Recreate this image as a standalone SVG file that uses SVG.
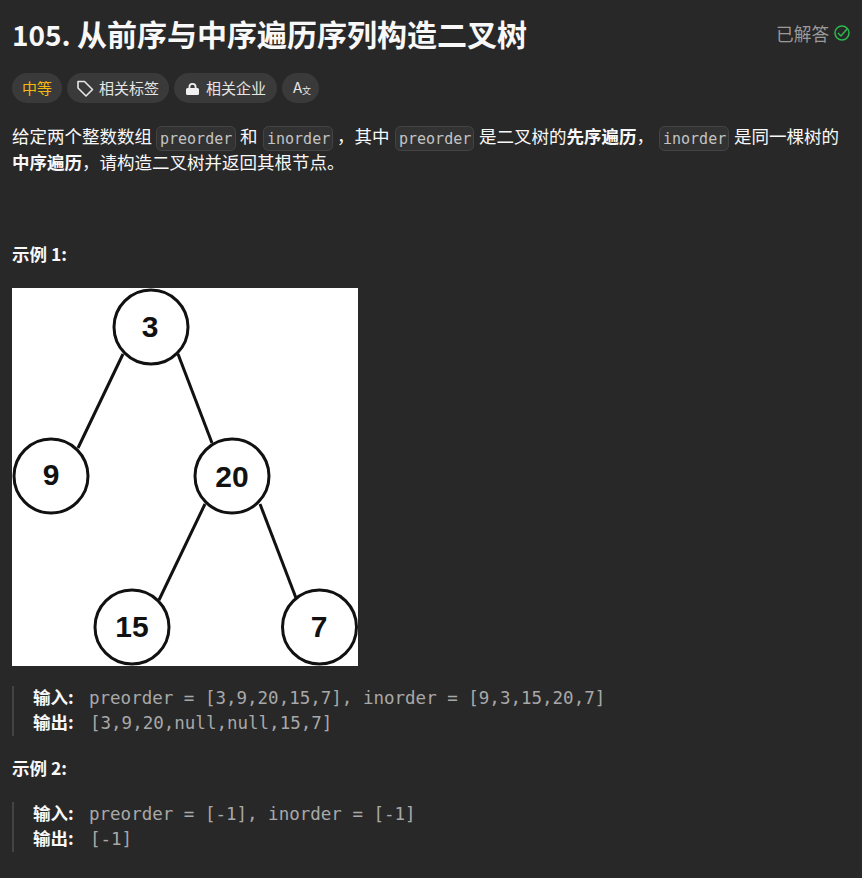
<svg xmlns="http://www.w3.org/2000/svg" width="862" height="878" viewBox="0 0 862 878">
<style>
text{font-family:"Noto Sans CJK SC","Noto Sans",sans-serif;fill:#f8f8f8}
.b{font-weight:700}
.body{font-size:17.5px}
.mono,.code{font-family:"DejaVu Sans Mono","Liberation Mono","Noto Sans CJK SC",monospace}
.mono{font-size:15px;fill:#c4c4c4}
.code{font-size:17.5px;fill:#a8a8a8}
.pill{fill:#3a3a3a}
.chip{fill:#323232;stroke:#444;stroke-width:1}
.tag{font-size:15px;fill:#e6e6e6}
.edge{stroke:#111;stroke-width:3;fill:none}
.node circle{fill:#fff;stroke:#111;stroke-width:3}
.node text{font-family:"Liberation Sans",Arial,sans-serif;font-weight:700;font-size:30px;fill:#111;text-anchor:middle}
.bar{fill:#444}
</style>
<rect width="862" height="878" fill="#282828"/>
<text x="12" y="46" font-size="28" class="b">105.</text>
<text x="77" y="46" font-size="30" class="b">从前序与中序遍历序列构造二叉树</text>
<text x="776" y="41" font-size="17.700" style="fill:#9a9a9a">已解答</text>
<g fill="none" stroke="#2db84d" stroke-width="1.500"><circle cx="842" cy="33" r="7"/><path d="M838 33l3 3 6-7"/></g>
<rect class="pill" x="12" y="73" width="50" height="30" rx="15"/>
<text x="22" y="94" font-size="15" style="fill:#f5b90f">中等</text>
<rect class="pill" x="67" y="73" width="102" height="30" rx="15"/>
<path d="M78 82v6l8 8 6.500-6.500-8-8h-6.500z" fill="none" stroke="#e6e6e6" stroke-width="1.600" stroke-linejoin="round"/>
<text x="99" y="94" class="tag">相关标签</text>
<rect class="pill" x="174" y="73" width="103" height="30" rx="15"/>
<path d="M188.500 88v-1a4 4 0 0 1 8 0v1h1a1.500 1.500 0 0 1 1.500 1.500v4a1.500 1.500 0 0 1-1.500 1.500h-10a1.500 1.500 0 0 1-1.500-1.500v-4a1.500 1.500 0 0 1 1.500-1.500zm1.800 0h4.400v-1a2.200 2.200 0 0 0-4.400 0z" fill="#f0f0f0" fill-rule="evenodd"/>
<text x="206" y="94" class="tag">相关企业</text>
<rect class="pill" x="282" y="73" width="37" height="30" rx="15"/>
<text x="293" y="93" font-size="15" style="fill:#e6e6e6">A</text><text x="302" y="94" font-size="9" style="fill:#e6e6e6">文</text>

<text x="12" y="143" class="body">给定两个整数数组</text>
<rect class="chip" x="156.500" y="126.500" width="79" height="24" rx="5"/>
<text x="160" y="144" class="mono">preorder</text>
<text x="240" y="143" class="body">和</text>
<rect class="chip" x="263.500" y="126.500" width="69" height="24" rx="5"/>
<text x="267" y="144" class="mono">inorder</text>
<text x="337" y="143" class="body">，其中</text>
<rect class="chip" x="395.500" y="126.500" width="78" height="24" rx="5"/>
<text x="399" y="144" class="mono">preorder</text>
<text x="479" y="143" class="body">是二叉树的<tspan class="b">先序遍历</tspan>，</text>
<rect class="chip" x="659.500" y="126.500" width="69" height="24" rx="5"/>
<text x="663" y="144" class="mono">inorder</text>
<text x="734" y="143" class="body">是同一棵树的</text>
<text x="12" y="169" class="body"><tspan class="b">中序遍历</tspan>，请构造二叉树并返回其根节点。</text>

<text x="12" y="261" font-size="17.500" class="b">示例 1:</text>

<rect x="12" y="288" width="346" height="378" fill="#fff"/>
<g id="connectors">
<line class="edge" x1="123" y1="354" x2="78" y2="448"/>
<line class="edge" x1="178" y1="354" x2="212" y2="443"/>
<line class="edge" x1="205" y1="504" x2="159" y2="600"/>
<line class="edge" x1="260" y1="504" x2="296" y2="598"/>
</g>
<g id="n3" class="node"><circle cx="151" cy="327" r="37"/><text x="150" y="337">3</text></g>
<g id="n9" class="node"><circle cx="51" cy="476" r="37"/><text x="51" y="485">9</text></g>
<g id="n20" class="node"><circle cx="232" cy="476" r="37"/><text x="232" y="487">20</text></g>
<g id="n15" class="node"><circle cx="132" cy="627" r="37"/><text x="132" y="637">15</text></g>
<g id="n7" class="node"><circle cx="319.500" cy="627" r="37"/><text x="319" y="637">7</text></g>

<rect class="bar" x="12" y="686" width="2" height="50"/>
<text x="33" y="704" font-size="17.500" class="b">输入:</text>
<text x="89" y="704" class="code">preorder = [3,9,20,15,7], inorder = [9,3,15,20,7]</text>
<text x="33" y="729" font-size="17.500" class="b">输出:</text>
<text x="90" y="729" class="code">[3,9,20,null,null,15,7]</text>
<text x="12" y="775" font-size="17.500" class="b">示例 2:</text>
<rect class="bar" x="12" y="802" width="2" height="50"/>
<text x="33" y="820" font-size="17.500" class="b">输入:</text>
<text x="89" y="820" class="code">preorder = [-1], inorder = [-1]</text>
<text x="33" y="845" font-size="17.500" class="b">输出:</text>
<text x="90" y="845" class="code">[-1]</text>
</svg>
